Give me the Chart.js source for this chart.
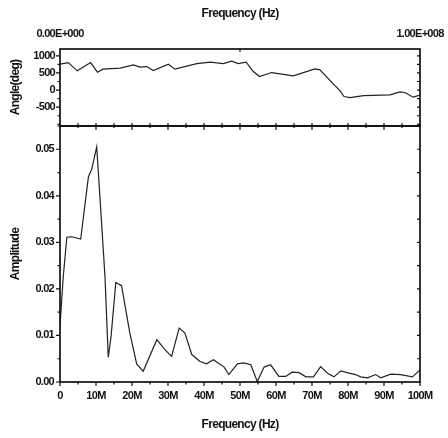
<!DOCTYPE html>
<html><head><meta charset="utf-8">
<script src="https://cdn.jsdelivr.net/npm/chart.js@4.4.1/dist/chart.umd.min.js"></script>
<style>
html,body{margin:0;padding:0;background:#fff;}
#wrap{position:relative;width:448px;height:438px;overflow:hidden;background:#fff;}
#c1{position:absolute;left:0;top:0;}
#c2{position:absolute;left:0;top:120px;}
</style></head><body>
<div id="wrap">
<canvas id="c1" width="448" height="130"></canvas>
<canvas id="c2" width="448" height="318"></canvas>
</div>
<script>
// ---- Data (frequency in MHz) ----
const freqAngle = [0, 2.3, 4.8, 8.5, 10.4, 11.9, 16.7, 20.4, 22.2, 24.1, 25.9, 30.1, 31.9, 38, 41.7, 45.4, 47.7, 49.5, 51.7, 53.7, 55.4, 58.8, 64.8, 70.8, 72.2, 75.9, 77.8, 78.9, 80.6, 84.3, 91.7, 94.4, 95.8, 98.1, 100];
const angleDeg = [760, 804, 561, 804, 523, 611, 640, 737, 669, 687, 570, 757, 611, 775, 816, 775, 845, 775, 816, 541, 395, 512, 415, 620, 590, 180, -23, -190, -219, -160, -140, -53, -70, -208, -149];

const freqAmp = [0, 0.9, 1.9, 3.2, 5.75, 7.9, 8.8, 10.2, 12.5, 13.4, 14.2, 15.5, 17.1, 19.4, 21.3, 23.1, 26.9, 29.2, 31, 33.1, 34.7, 36.6, 38.9, 40.7, 42.6, 45.6, 46.9, 49.3, 51.1, 53, 54.8, 56.7, 58.5, 60.8, 62.7, 64.5, 66.4, 68.3, 70.4, 72.4, 74.3, 76.1, 78, 80.3, 82.1, 83.5, 85.4, 87.7, 89.1, 91.9, 94.6, 97.9, 100];
const amplitude = [0.012, 0.0226, 0.0311, 0.0312, 0.0307, 0.0441, 0.0457, 0.0505, 0.0226, 0.0053, 0.0099, 0.0214, 0.0207, 0.0105, 0.0039, 0.0023, 0.0091, 0.0069, 0.0055, 0.0116, 0.0105, 0.0059, 0.0044, 0.0039, 0.0048, 0.0032, 0.0016, 0.0039, 0.0041, 0.0037, 0.0001, 0.0032, 0.0037, 0.0012, 0.0012, 0.0021, 0.0020, 0.0011, 0.0011, 0.0033, 0.0019, 0.0011, 0.0024, 0.0019, 0.0016, 0.0011, 0.0009, 0.0016, 0.0009, 0.0017, 0.0016, 0.0011, 0.0026];

// ---- Tick labels ----
const topTickValues = [0, 100];
const topTickLabels = ['0.00E+000', '1.00E+008'];
const angleTickValues = [-500, 0, 500, 1000];
const angleTickLabels = ['-500', '0', '500', '1000'];
const freqTickValues = [0, 10, 20, 30, 40, 50, 60, 70, 80, 90, 100];
const freqTickLabels = ['0', '10M', '20M', '30M', '40M', '50M', '60M', '70M', '80M', '90M', '100M'];
const ampTickValues = [0, 0.01, 0.02, 0.03, 0.04, 0.05];
const ampTickLabels = ['0.00', '0.01', '0.02', '0.03', '0.04', '0.05'];

const FAMILY = "'Liberation Sans', Arial, sans-serif";
const tickFont = {family: FAMILY, size: 11, weight: 'bold'};
const titleFont = {family: FAMILY, size: 12, weight: 'bold'};
const INK = '#111';

function range(a, b, s) { const r = []; for (let v = a; v <= b + s * 1e-6; v += s) r.push(+v.toFixed(6)); return r; }
function noPad(s) { s.paddingTop = 0; s.paddingBottom = 0; s.paddingLeft = 0; s.paddingRight = 0; }

const tightText = {
  id: 'tightText',
  beforeDraw(chart) { chart.ctx.letterSpacing = '-0.7px'; }
};

const frameTicks = {
  id: 'frameTicks',
  afterDatasetsDraw(chart, args, opts) {
    const ctx = chart.ctx, a = chart.chartArea;
    ctx.save();
    ctx.strokeStyle = INK;
    ctx.lineWidth = 1.2;
    for (const m of opts.marks) {
      const sc = chart.scales[m.scale];
      ctx.beginPath();
      for (const v of m.values) {
        const p = sc.getPixelForValue(v);
        if (m.side === 'left') { ctx.moveTo(a.left, p); ctx.lineTo(a.left - m.len, p); }
        else if (m.side === 'right') { ctx.moveTo(a.right, p); ctx.lineTo(a.right + m.len, p); }
        else if (m.side === 'top') { ctx.moveTo(p, a.top); ctx.lineTo(p, a.top - m.len); }
        else { ctx.moveTo(p, a.bottom); ctx.lineTo(p, a.bottom + m.len); }
      }
      ctx.stroke();
    }
    ctx.lineWidth = 1.7;
    ctx.strokeRect(a.left, a.top, a.right - a.left, a.bottom - a.top);
    ctx.restore();
  }
};

const hidden = {grid: {display: false, drawTicks: false}, border: {display: false}};

// ---- Upper chart: angle ----
new Chart(document.getElementById('c1'), {
  type: 'line',
  data: {datasets: [{
    data: freqAngle.map((f, i) => ({x: f, y: angleDeg[i]})),
    borderColor: '#222', borderWidth: 1.2, pointRadius: 0, tension: 0, fill: false
  }]},
  options: {
    responsive: false, animation: false,
    layout: {padding: {left: 0, right: 28, top: 0, bottom: 0}},
    plugins: {legend: {display: false}, tooltip: {enabled: false},
      frameTicks: {marks: [
        {scale: 'y', side: 'left', values: angleTickValues, len: 4},
        {scale: 'y', side: 'left', values: [-1000, -750, -250, 250, 750], len: 2.5},
        {scale: 'y', side: 'right', values: range(-1000, 1000, 250), len: -3},
        {scale: 'x', side: 'bottom', values: range(5, 95, 5), len: -3},
        {scale: 'xt', side: 'top', values: [50], len: -3}
      ]}
    },
    scales: {
      x: {type: 'linear', min: 0, max: 100, position: 'bottom', ...hidden,
        ticks: {display: false}, afterFit: s => { s.height = 4; noPad(s); }},
      xt: {type: 'linear', min: 0, max: 100, position: 'top', ...hidden,
        afterBuildTicks: s => { s.ticks = topTickValues.map(v => ({value: v})); },
        ticks: {autoSkip: false, maxRotation: 0, padding: 8, color: INK, font: tickFont,
          callback: (v, i) => topTickLabels[i]},
        title: {display: true, text: 'Frequency (Hz)', color: INK, font: titleFont, padding: {top: 6.5, bottom: 0}},
        afterFit: s => { s.height = 49; noPad(s); }},
      y: {type: 'linear', min: -1050, max: 1200, position: 'left', ...hidden,
        afterBuildTicks: s => { s.ticks = angleTickValues.map(v => ({value: v})); },
        ticks: {padding: 5, color: INK, font: tickFont, callback: (v, i) => angleTickLabels[i]},
        title: {display: true, text: 'Angle(deg)', color: INK, font: titleFont, padding: {top: 8, bottom: 0}},
        afterFit: s => { s.width = 60; noPad(s); }}
    }
  },
  plugins: [tightText, frameTicks]
});

// ---- Lower chart: amplitude ----
new Chart(document.getElementById('c2'), {
  type: 'line',
  data: {datasets: [{
    data: freqAmp.map((f, i) => ({x: f, y: amplitude[i]})),
    borderColor: '#222', borderWidth: 1.2, pointRadius: 0, tension: 0, fill: false
  }]},
  options: {
    responsive: false, animation: false,
    layout: {padding: {left: 0, right: 28, top: 6, bottom: 0}},
    plugins: {legend: {display: false}, tooltip: {enabled: false},
      frameTicks: {marks: [
        {scale: 'y', side: 'left', values: ampTickValues, len: 4},
        {scale: 'y', side: 'left', values: range(0.005, 0.055, 0.01), len: 2.5},
        {scale: 'y', side: 'right', values: range(0.005, 0.05, 0.005), len: -3},
        {scale: 'x', side: 'top', values: range(10, 90, 10), len: -4},
        {scale: 'x', side: 'top', values: range(5, 95, 10), len: -2},
        {scale: 'x', side: 'bottom', values: freqTickValues, len: 4},
        {scale: 'x', side: 'bottom', values: range(5, 95, 10), len: 2.5}
      ]}
    },
    scales: {
      x: {type: 'linear', min: 0, max: 100, position: 'bottom', ...hidden,
        afterBuildTicks: s => { s.ticks = freqTickValues.map(v => ({value: v})); },
        ticks: {autoSkip: false, maxRotation: 0, padding: 7, color: INK, font: tickFont,
          callback: (v, i) => freqTickLabels[i]},
        title: {display: true, text: 'Frequency (Hz)', color: INK, font: titleFont, padding: {top: 4, bottom: 6}},
        afterFit: s => { s.height = 56; noPad(s); }},
      y: {type: 'linear', min: 0, max: 0.055, position: 'left', ...hidden,
        afterBuildTicks: s => { s.ticks = ampTickValues.map(v => ({value: v})); },
        ticks: {padding: 6, color: INK, font: tickFont, callback: (v, i) => ampTickLabels[i]},
        title: {display: true, text: 'Amplitude', color: INK, font: titleFont, padding: {top: 8, bottom: 0}},
        afterFit: s => { s.width = 60; noPad(s); }}
    }
  },
  plugins: [tightText, frameTicks]
});
</script>
</body></html>
